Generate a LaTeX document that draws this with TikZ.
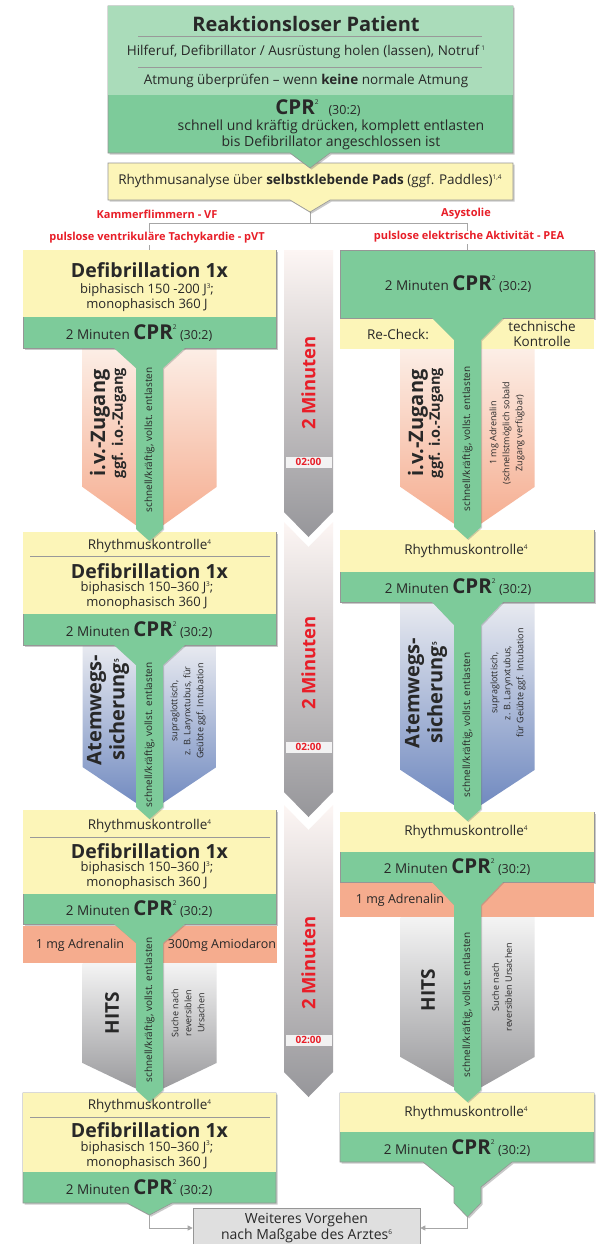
\documentclass[tikz,border=0pt]{standalone}
\usepackage{fontspec}
\setmainfont{Open Sans}
\usepackage{tikz}
\usetikzlibrary{arrows.meta,shadows}

\definecolor{topgreen}{RGB}{170,220,186}
\definecolor{cprgreen}{RGB}{125,203,154}
\definecolor{padyellow}{RGB}{252,245,184}
\definecolor{drugorange}{RGB}{245,172,142}
\definecolor{alarmred}{RGB}{232,30,40}
\definecolor{framegray}{RGB}{150,150,150}
\definecolor{textgray}{RGB}{40,40,40}
\definecolor{ivtop}{RGB}{252,238,230}
\definecolor{ivbot}{RGB}{245,170,140}
\definecolor{airtop}{RGB}{232,234,240}
\definecolor{airbot}{RGB}{108,134,190}
\definecolor{hitstop}{RGB}{244,244,244}
\definecolor{hitsbot}{RGB}{150,150,153}
\definecolor{midtop}{RGB}{253,246,244}
\definecolor{midbot}{RGB}{150,150,154}

\newcommand{\fsz}[2]{\fontsize{#1}{#2}\selectfont}
\newcommand{\sups}[2][5.5pt]{\raisebox{#1}{\fsz{6.5}{6.5}#2}}
\newcommand{\cprtext}{2 Minuten\ {\fsz{20.5}{20}\bfseries CPR}\sups[10.5pt]{2}\ {\fsz{12.5}{12}(30:2)}}

\begin{document}
\begin{tikzpicture}[x=1pt,y=-1pt,
  box/.style={draw=framegray,line width=0.6pt,
    drop shadow={shadow xshift=1.6pt,shadow yshift=-1.6pt,opacity=0.35,fill=black!60}},
  body/.style={font=\fsz{13.5}{15},text=textgray,inner sep=0pt,align=center},
  head/.style={font=\fsz{19.5}{20}\bfseries,text=textgray,inner sep=0pt},
  vert/.style={rotate=90,inner sep=0pt,align=center,text=textgray},
  bigvert/.style={vert,font=\fsz{20}{23}\bfseries},
  smallvert/.style={vert,font=\fsz{9}{13}},
  alarm/.style={font=\fsz{11}{12}\bfseries,text=alarmred,fill=white,inner sep=1pt},
  sepline/.style={draw=gray!80,line width=0.6pt},
  conn/.style={draw=gray!70,line width=0.8pt,-{Triangle[length=5pt,width=5pt]}}]
\fill[white] (0,0) rectangle (599,1244);
\useasboundingbox (0,0) rectangle (599,1244);

% 2-minute timer column
\foreach \yt/\yn/\ys/\yp/\ym/\yc [count=\i] in
  {250/250/512/537/383/462, 522/547/792/817/663/747, 805/830/1072/1097/963/1040} {
  \shade[top color=midtop,bottom color=midbot] (284,\yt) -- (308.5,\yn) -- (333,\yt)
    -- (333,\ys) -- (308.5,\yp) -- (284,\ys) -- cycle;
  \node[vert,font=\fsz{18.5}{19}\bfseries,text=alarmred] (mins\i) at (308.5,\ym) {2 Minuten};
  \node[fill=white,fill opacity=0.85,text opacity=1,minimum width=46pt,minimum height=11pt,
    inner sep=0pt,font=\fsz{10}{10}\bfseries,text=alarmred] (clock\i) at (308.5,\yc) {02:00};
}

% gradients behind the stems
\foreach \cx/\yt/\ys/\yp/\ca/\cb in
  {149.5/348/487/535/ivtop/ivbot, 467.5/349/487/533/ivtop/ivbot,
   149.5/645/767/812/airtop/airbot, 467.5/602/770/814/airtop/airbot,
   149.5/963/1063/1095/hitstop/hitsbot, 467.5/917/1057/1095/hitstop/hitsbot}
  \shade[top color=\ca,bottom color=\cb] ({\cx-67},\yt) -- ({\cx+67},\yt)
    -- ({\cx+67},\ys) -- (\cx,\yp) -- ({\cx-67},\ys) -- cycle;

% analysis and first connectors
\coordinate (ana) at (310,212);
\coordinate (split) at (310,223);
\coordinate (vfin) at (149.5,257);
\coordinate (peain) at (467.5,257);
\draw[draw=gray!70,line width=0.8pt] (ana) -- (split);
\draw[conn] (split) -| (vfin);
\draw[conn] (split) -| (peain);
\path[box,fill=padyellow] (108,163) -- (513,163) -- (513,200) -- (330,200) -- (310,212)
  -- (290,200) -- (108,200) -- cycle;

% start box
\path[box,fill=cprgreen] (108,6) -- (513,6) -- (513,153) -- (330,153) -- (310,168)
  -- (290,153) -- (108,153) -- cycle;
\fill[topgreen] (108.3,6.3) rectangle (512.7,95);
\draw[sepline] (138,36) -- (482,36);
\draw[sepline] (138,67) -- (482,67);

% VF / pVT boxes
\foreach \yt/\yg/\yb in {250/317/348, 532/614/645, 810/894/924} {
  \path[box,fill=cprgreen] (23,\yt) rectangle (276,\yb);
  \fill[padyellow] (23.3,{\yt+0.3}) rectangle (275.7,\yg);
}
\path[box,fill=cprgreen] (23,1093) -- (276,1093) -- (276,1203) -- (172,1203) -- (149.5,1215)
  -- (127,1203) -- (23,1203) -- cycle;
\fill[padyellow] (23.3,1093.3) rectangle (275.7,1172);
\foreach \y in {556,837,1117}
  \draw[sepline] (30,\y) -- (270,\y);
\fill[drugorange] (23,925.5) rectangle (277,963);

% asystole / PEA boxes
\path[box,fill=cprgreen] (340,250) rectangle (594,318);
\fill[padyellow] (340,318.5) rectangle (594,349);
\foreach \yt/\yg/\yb in {530/572/602, 812/852/882} {
  \path[box,fill=cprgreen] (340,\yt) rectangle (594,\yb);
  \fill[padyellow] (340.3,{\yt+0.3}) rectangle (593.7,\yg);
}
\fill[drugorange] (340,883) rectangle (594,917);
\path[box,fill=cprgreen] (340,1093) -- (594,1093) -- (594,1162) -- (512,1162) -- (481,1187)
  -- (481,1203) -- (467.5,1217) -- (454,1203) -- (454,1187) -- (423,1162) -- (340,1162) -- cycle;
\fill[padyellow] (340.3,1093.3) rectangle (593.7,1132);

% CPR stems
\foreach \cx/\yt/\yn/\yp in
  {149.5/347.5/368/541, 467.5/317.5/340/539, 149.5/644.5/665/819,
   467.5/601.5/625/821, 149.5/923.5/943/1102, 467.5/881.5/905/1102}
  \fill[cprgreen,drop shadow={shadow xshift=1pt,shadow yshift=-1pt,opacity=0.3,fill=black!60}]
    ({\cx-36},\yt) -- ({\cx+36},\yt) -- ({\cx+13.5},\yn) -- ({\cx+13.5},{\yp-12})
    -- (\cx,\yp) -- ({\cx-13.5},{\yp-12}) -- ({\cx-13.5},\yn) -- cycle;

% texts, start
\node[head,font=\fsz{20}{21}\bfseries] (patient) at (306,24) {Reaktionsloser Patient};
\node[body] (call) at (306,52) {Hilferuf, Defibrillator / Ausrüstung holen (lassen), Notruf\,\sups{1}};
\node[body] (breath) at (306,81) {Atmung überprüfen -- wenn \textbf{keine} normale Atmung};
\node[body] (cpr0) at (318,108) {{\fsz{20.5}{20}\bfseries CPR}\sups[10.5pt]{2}\hspace{10pt}{\fsz{12.5}{12}(30:2)}};
\node[body,font=\fsz{14}{16}] (press) at (331,135) {schnell und kräftig drücken, komplett entlasten\\bis Defibrillator angeschlossen ist};
\node[body] (anatxt) at (310,181) {Rhythmusanalyse über \textbf{selbstklebende Pads} (ggf. Paddles)\sups{1,4}};

% rhythm labels
\node[alarm] (vf) at (157,214) {Kammerflimmern - VF};
\node[alarm] (pvt) at (157,238) {pulslose ventrikuläre Tachykardie - pVT};
\node[alarm] (asy) at (466,214) {Asystolie};
\node[alarm] (pea) at (469,237) {pulslose elektrische Aktivität - PEA};

% texts, left column
\node[head] (defi1) at (149.5,270) {Defibrillation 1x};
\node[body,font=\fsz{13}{15}] (joule1) at (147,297.5) {biphasisch 150 -200 J\sups{3};\\monophasisch 360 J};
\node[body] (cprL1) at (139,333) {\cprtext};
\node[body] (rhyL2) at (149.5,546) {Rhythmuskontrolle\sups{4}};
\node[head] (defi2) at (149.5,571) {Defibrillation 1x};
\node[body,font=\fsz{13}{15}] (joule2) at (147,595.5) {biphasisch 150–360 J\sups{3};\\monophasisch 360 J};
\node[body] (cprL2) at (139,630) {\cprtext};
\node[body] (rhyL3) at (149.5,826) {Rhythmuskontrolle\sups{4}};
\node[head] (defi3) at (149.5,851) {Defibrillation 1x};
\node[body,font=\fsz{13}{15}] (joule3) at (147,875.5) {biphasisch 150–360 J\sups{3};\\monophasisch 360 J};
\node[body] (cprL3) at (139,909) {\cprtext};
\node[body,font=\fsz{12.5}{13}] (adrL) at (80,945) {1 mg Adrenalin};
\node[body,font=\fsz{12.5}{13}] (amio) at (222,945) {300mg Amiodaron};
\node[body] (rhyL4) at (149.5,1106) {Rhythmuskontrolle\sups{4}};
\node[head] (defi4) at (149.5,1130) {Defibrillation 1x};
\node[body,font=\fsz{13}{15}] (joule4) at (147,1155) {biphasisch 150–360 J\sups{3};\\monophasisch 360 J};
\node[body] (cprL4) at (139,1188) {\cprtext};

% texts, right column
\node[body] (cprR1) at (458,284) {\cprtext};
\node[body] (recheck) at (398,334) {Re-Check:};
\node[body] (tech) at (542,334) {technische\\Kontrolle};
\node[body] (rhyR2) at (466,551) {Rhythmuskontrolle\sups{4}};
\node[body] (cprR2) at (458,587) {\cprtext};
\node[body] (rhyR3) at (466,832) {Rhythmuskontrolle\sups{4}};
\node[body] (cprR3) at (457,867) {\cprtext};
\node[body,font=\fsz{12.5}{13}] (adrR) at (400,900) {1 mg Adrenalin};
\node[body] (rhyR4) at (466,1113) {Rhythmuskontrolle\sups{4}};
\node[body] (cprR4) at (457,1148) {\cprtext};

% vertical texts
\foreach \x/\y [count=\i] in {149.5/440, 467.5/439, 149.5/735, 467.5/725, 149.5/1010, 467.5/1005}
  \node[smallvert,font=\fsz{10}{12}] (push\i) at (\x,\y) {schnell/kräftig, vollst. entlasten};
\node[bigvert] (ivL) at (100,423) {i.v.-Zugang};
\node[vert,font=\fsz{14.5}{15}\bfseries] (ioL) at (119,423) {ggf. i.o.-Zugang};
\node[bigvert] (ivR) at (418,423) {i.v.-Zugang};
\node[vert,font=\fsz{14.5}{15}\bfseries] (ioR) at (436,423) {ggf. i.o.-Zugang};
\node[smallvert] (adrIV) at (507,433) {1 mg Adrenalin\\(schnellstmöglich sobald\\Zugang verfügbar)};
\node[bigvert] (airL) at (108,710) {Atemwegs-\\sicherung\sups{5}};
\node[smallvert] (supL) at (188,711) {supraglottisch,\\z. B. Larynxtubus, für\\Geübte ggf. Intubation};
\node[bigvert] (airR) at (426,693) {Atemwegs-\\sicherung\sups{5}};
\node[smallvert] (supR) at (508,683) {supraglottisch,\\z. B. Larynxtubus,\\für Geübte ggf. Intubation};
\node[bigvert,font=\fsz{19}{20}\bfseries] (hitsL) at (112,1013) {HITS};
\node[smallvert] (causeL) at (188,1013) {Suche nach\\reversiblen\\Ursachen};
\node[bigvert,font=\fsz{19}{20}\bfseries] (hitsR) at (428,990) {HITS};
\node[smallvert] (causeR) at (502,987) {Suche nach\\reversiblen Ursachen};

% end
\node[draw=framegray,fill=gray!25,line width=0.6pt,body,font=\fsz{14}{16},minimum width=227pt,minimum height=40pt]
  (next) at (306.5,1228) {Weiteres Vorgehen\\nach Maßgabe des Arztes\sups{6}};
\coordinate (vfend) at (149.5,1215);
\coordinate (peaend) at (467.5,1217);
\draw[conn] (vfend) |- (next.west);
\draw[conn] (peaend) |- (next.east);
\end{tikzpicture}
\end{document}
